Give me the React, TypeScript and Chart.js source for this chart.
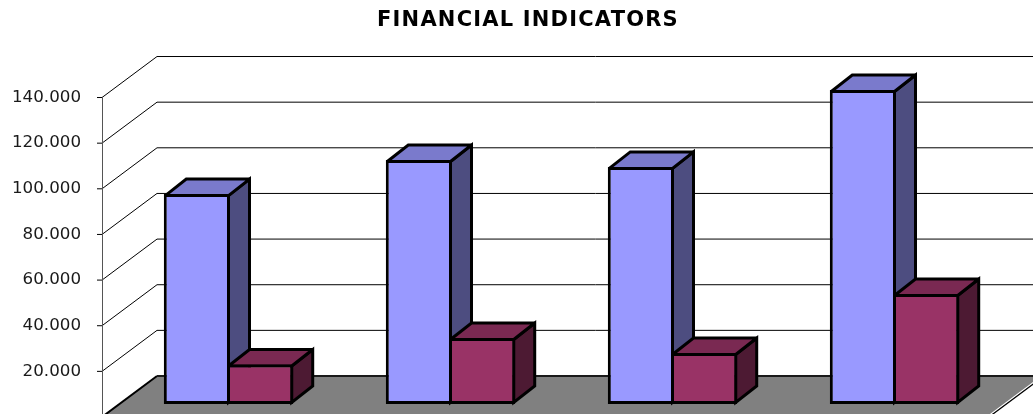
import React, { useEffect, useRef } from "react";
import { Chart, registerables } from "chart.js";

Chart.register(...registerables);

const categories = ["A", "B", "C", "D"];
const seriesOne = [92000, 106900, 103900, 137600];
const seriesTwo = [17300, 28900, 22350, 48200];
const tickValues = [20000, 40000, 60000, 80000, 100000, 120000, 140000];
const titleText = "FINANCIAL INDICATORS";

const PX_PER_UNIT = 45.64 / 20000;
const AREA_TOP = 56;
const AREA_BOTTOM = 414;
const AXIS_ZERO_Y = 417;
const BAR_ZERO_Y = 404;
const AXIS_X = 102;
const WALL_DX = 55;
const WALL_DY = 41;
const FLOOR_WIDTH = 887;
const BAR_DX = 21;
const BAR_DY = 16.5;
const BORDER = 3;

function poly(ctx: CanvasRenderingContext2D, pts: number[][], fill: string | null, stroke: string | null, lw = 1) {
  ctx.beginPath();
  pts.forEach((p, i) => (i ? ctx.lineTo(p[0], p[1]) : ctx.moveTo(p[0], p[1])));
  ctx.closePath();
  if (fill) {
    ctx.fillStyle = fill;
    ctx.fill();
  }
  if (stroke) {
    ctx.strokeStyle = stroke;
    ctx.lineWidth = lw;
    ctx.lineJoin = "miter";
    ctx.miterLimit = 3;
    ctx.stroke();
  }
}

function line(ctx: CanvasRenderingContext2D, x1: number, y1: number, x2: number, y2: number, color: string, lw: number) {
  ctx.beginPath();
  ctx.moveTo(x1, y1);
  ctx.lineTo(x2, y2);
  ctx.strokeStyle = color;
  ctx.lineWidth = lw;
  ctx.stroke();
}

const faceColors = [
  { side: "#4D4D80", top: "#7A7ACC" },
  { side: "#4D1A33", top: "#7A2952" },
];

const box3d = {
  id: "box3d",
  beforeDraw(chart: any) {
    // the title is centred over the floor of the plot, not the whole canvas
    const tb = chart.titleBlock;
    tb.left = 23;
    tb.right = chart.width;
    if (!tb.__spaced) {
      tb.__spaced = true;
      const draw = tb.draw;
      tb.draw = function () {
        chart.ctx.letterSpacing = "1.2px";
        draw.call(tb);
        chart.ctx.letterSpacing = "0px";
      };
    }
  },
  beforeDatasetsDraw(chart: any) {
    const { ctx, width } = chart;
    const y = chart.scales.y;
    ctx.save();
    const wallRight = width + 20;
    const zeroFront = y.getPixelForValue(0);

    // wall grid and side grid
    tickValues.forEach((v) => {
      const py = y.getPixelForValue(v);
      line(ctx, AXIS_X + WALL_DX, py - WALL_DY, wallRight, py - WALL_DY, "#000000", 1);
      line(ctx, AXIS_X, py, AXIS_X + WALL_DX, py - WALL_DY, "#000000", 1);
      line(ctx, AXIS_X - 5, py, AXIS_X, py, "#000000", 1);
    });

    // floor
    const backY = zeroFront - WALL_DY;
    const frontR = AXIS_X + FLOOR_WIDTH;
    const backR = frontR + WALL_DX;
    poly(ctx, [[AXIS_X, zeroFront], [AXIS_X + WALL_DX, backY], [backR, backY], [frontR, zeroFront]], "#808080", null);
    line(ctx, AXIS_X, zeroFront, AXIS_X + WALL_DX, backY, "#000000", 2);
    line(ctx, AXIS_X + WALL_DX, backY, wallRight, backY, "#1A1A1A", 2);
    line(ctx, frontR - 1.2, zeroFront - 0.6, backR - 1.2, backY - 0.6, "#FFFFFF", 1.2);
    line(ctx, frontR, zeroFront, backR, backY, "#000000", 1.2);

    // vertical axis
    line(ctx, AXIS_X + 0.5, y.getPixelForValue(140000), AXIS_X + 0.5, chart.height, "#555555", 1);

    // side and top faces of the boxes
    chart.data.datasets.forEach((_: any, di: number) => {
      const meta = chart.getDatasetMeta(di);
      meta.data.forEach((bar: any) => {
        const w = bar.width;
        const l = bar.x - w / 2 + (di === 0 ? BORDER / 2 : 0);
        const r = bar.x + w / 2 - (di === 0 ? 0 : BORDER / 2);
        const t = bar.y + BORDER / 2;
        const b = bar.base - BORDER / 2;
        poly(ctx, [[r, t], [r + BAR_DX, t - BAR_DY], [r + BAR_DX, b - BAR_DY], [r, b]], faceColors[di].side, "#000000", BORDER);
        poly(ctx, [[l, t], [l + BAR_DX, t - BAR_DY], [r + BAR_DX, t - BAR_DY], [r, t]], faceColors[di].top, "#000000", BORDER);
      });
    });
    ctx.restore();
  },
};

export default function App() {
  const ref = useRef<HTMLCanvasElement | null>(null);
  useEffect(() => {
    if (!ref.current) return;
    const chart = new Chart(ref.current, {
      type: "bar",
      plugins: [box3d],
      data: {
        labels: categories,
        datasets: [
          {
            label: "Series 1",
            data: seriesOne,
            yAxisID: "yBar",
            backgroundColor: "#9999FF",
            borderColor: "#000000",
            borderWidth: { top: BORDER, left: BORDER, bottom: BORDER, right: BORDER / 2 },
            borderSkipped: false,
          },
          {
            label: "Series 2",
            data: seriesTwo,
            yAxisID: "yBar",
            backgroundColor: "#993366",
            borderColor: "#000000",
            borderWidth: { top: BORDER, left: BORDER / 2, bottom: BORDER, right: BORDER },
            borderSkipped: false,
          },
        ],
      },
      options: {
        responsive: false,
        animation: false,
        events: [],
        categoryPercentage: 0.583,
        barPercentage: 1,
        layout: { padding: { left: 0, right: 27.5, top: 0, bottom: 0 } },
        plugins: {
          legend: { display: false },
          tooltip: { enabled: false },
          title: {
            display: true,
            text: titleText,
            color: "#000000",
            font: { family: "'DejaVu Sans'", size: 21, weight: "bold", lineHeight: 1.2 },
            padding: { top: 8.4, bottom: 22.4 },
          },
        },
        scales: {
          x: { display: false },
          y: {
            position: "left",
            min: (AXIS_ZERO_Y - AREA_BOTTOM) / PX_PER_UNIT,
            max: (AXIS_ZERO_Y - AREA_TOP) / PX_PER_UNIT,
            grid: { display: false, drawTicks: false },
            border: { display: false },
            ticks: {
              padding: 36.5,
              color: "#1A1A1A",
              font: { family: "'DejaVu Sans'", size: 16.7 },
              callback: (v: any) => Number(v).toLocaleString("de-DE"),
            },
            afterBuildTicks: (scale: any) => {
              scale.ticks = tickValues.map((value) => ({ value }));
            },
            afterFit: (scale: any) => {
              scale.width = 117.5;
              scale.paddingTop = 0;
              scale.paddingBottom = 0;
            },
          },
          yBar: {
            display: false,
            min: (BAR_ZERO_Y - AREA_BOTTOM) / PX_PER_UNIT,
            max: (BAR_ZERO_Y - AREA_TOP) / PX_PER_UNIT,
          },
        },
      } as any,
    });
    return () => chart.destroy();
  }, []);
  return (
    <div style={{ position: "fixed", left: 0, top: 0, width: 1033, height: 414, overflow: "hidden", background: "#fff" }}>
      <canvas ref={ref} width={1033} height={414} style={{ display: "block" }} />
    </div>
  );
}
